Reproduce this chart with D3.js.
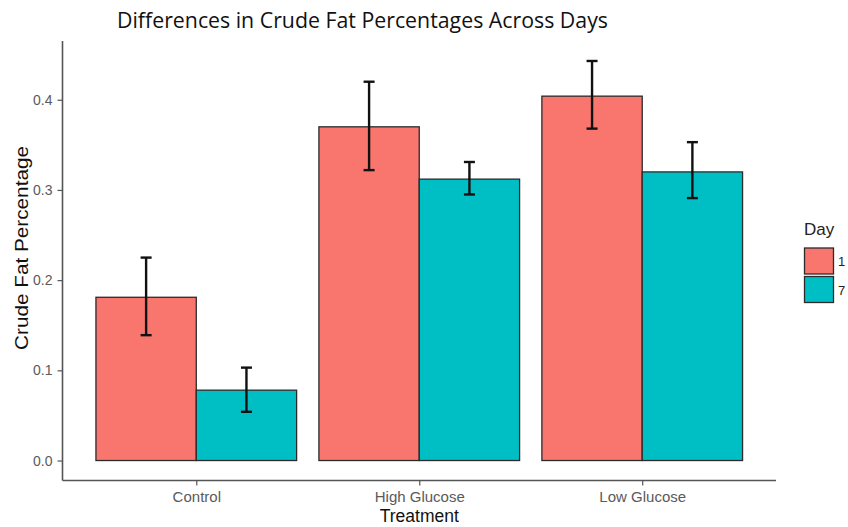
<!DOCTYPE html>
<html>
<head>
<meta charset="utf-8">
<script src="https://cdn.jsdelivr.net/npm/d3@7"></script>
<style>
  body { margin: 0; background: #fff; }
  svg { display: block; }
</style>
</head>
<body>
<svg id="chart" width="848" height="527"></svg>
<script>
// Treatments on the x axis and the two sampling days
const treatments = ["Control", "High Glucose", "Low Glucose"];
const days = ["1", "7"];

// Mean crude fat percentage per treatment, one array per day
const day1Means = [0.181, 0.370, 0.404];
const day7Means = [0.078, 0.312, 0.320];

// Error bar ends (lower / upper) per treatment, per day
const day1Lower = [0.139, 0.322, 0.368];
const day1Upper = [0.225, 0.420, 0.443];
const day7Lower = [0.054, 0.295, 0.291];
const day7Upper = [0.103, 0.331, 0.353];

const yTicks = [0.0, 0.1, 0.2, 0.3, 0.4];

const fills = { "1": "#F8766D", "7": "#00BFC4" };

const rows = [];
treatments.forEach((t, i) => {
  rows.push({ treatment: t, day: "1", mean: day1Means[i], lo: day1Lower[i], hi: day1Upper[i] });
  rows.push({ treatment: t, day: "7", mean: day7Means[i], lo: day7Lower[i], hi: day7Upper[i] });
});

const svg = d3.select("#chart");
const plot = { left: 62.5, right: 776, top: 41, bottom: 480.5 };

// Discrete x positions: categories at 1..3, expanded 0.6 on each side
const xPos = d3.scaleLinear().domain([0.4, 3.6]).range([plot.left, plot.right]);
const unit = xPos(2) - xPos(1);
const dodge = 0.9;

const allVals = rows.flatMap(r => [0, r.hi]);
const yMax = d3.max(allVals);
const pad = yMax * 0.05;
const y = d3.scaleLinear().domain([-pad, yMax + pad]).range([plot.bottom, plot.top]);

function barX(r) {
  const ci = treatments.indexOf(r.treatment) + 1;
  const di = days.indexOf(r.day);
  return xPos(ci) - (dodge / 2) * unit + di * (dodge / 2) * unit;
}
const barW = (dodge / 2) * unit;

// Bars
svg.append("g").selectAll("rect").data(rows).join("rect")
  .attr("x", barX)
  .attr("width", barW)
  .attr("y", d => y(d.mean))
  .attr("height", d => y(0) - y(d.mean))
  .attr("fill", d => fills[d.day])
  .attr("stroke", "#2b2b2b")
  .attr("stroke-width", 1.3);

// Error bars
const eb = svg.append("g").attr("stroke", "#111").attr("stroke-width", 2.4).attr("fill", "none");
const cap = 5.5;
rows.forEach(r => {
  const cx = barX(r) + barW / 2;
  eb.append("line").attr("x1", cx).attr("x2", cx).attr("y1", y(r.lo)).attr("y2", y(r.hi));
  eb.append("line").attr("x1", cx - cap).attr("x2", cx + cap).attr("y1", y(r.hi)).attr("y2", y(r.hi));
  eb.append("line").attr("x1", cx - cap).attr("x2", cx + cap).attr("y1", y(r.lo)).attr("y2", y(r.lo));
});

const tickFont = "'Liberation Sans', Arial, sans-serif";

// Y axis
const yAxis = d3.axisLeft(y).tickValues(yTicks).tickFormat(d3.format(".1f")).tickSize(5).tickPadding(5);
const gy = svg.append("g").attr("transform", `translate(${plot.left},0)`).call(yAxis);
gy.select(".domain").attr("d", `M0,${plot.top}V${plot.bottom}`).attr("stroke", "#555").attr("stroke-width", 1.6);
gy.selectAll(".tick line").attr("stroke", "#555").attr("stroke-width", 1.2);
gy.selectAll(".tick text").attr("fill", "#5a5a5a").style("font-family", tickFont).style("font-size", "14px");

// X axis
const xAxis = d3.axisBottom(xPos).tickValues([1, 2, 3]).tickFormat(d => treatments[d - 1]).tickSize(5).tickPadding(6);
const gx = svg.append("g").attr("transform", `translate(0,${plot.bottom})`).call(xAxis);
gx.select(".domain").attr("d", `M${plot.left},0H${plot.right}`).attr("stroke", "#555").attr("stroke-width", 1.6);
gx.selectAll(".tick line").attr("stroke", "#555").attr("stroke-width", 1.2);
gx.selectAll(".tick text").attr("fill", "#5a5a5a").style("font-family", tickFont).style("font-size", "15px");

// Axis titles
svg.append("text")
  .attr("x", xPos(2)).attr("y", 522)
  .attr("text-anchor", "middle")
  .style("font-family", tickFont).style("font-size", "17.5px").attr("fill", "#111")
  .text("Treatment");

svg.append("text")
  .attr("transform", `translate(28,248) rotate(-90)`)
  .attr("x", -102).attr("textLength", 204).attr("lengthAdjust", "spacingAndGlyphs")
  .style("font-family", tickFont).style("font-size", "18px").attr("fill", "#111")
  .style("text-anchor", "start")
  .text("Crude Fat Percentage");

// Title
svg.append("text")
  .attr("x", 117).attr("y", 28)
  .attr("textLength", 491).attr("lengthAdjust", "spacingAndGlyphs")
  .style("font-family", "'Open Sans', 'Noto Sans', sans-serif").style("font-size", "21px").attr("fill", "#111")
  .text("Differences in Crude Fat Percentages Across Days");

// Legend
const lg = svg.append("g").attr("transform", "translate(804,0)");
lg.append("text").attr("x", 0).attr("y", 235)
  .style("font-family", tickFont).style("font-size", "17px").attr("fill", "#222")
  .text("Day");
days.forEach((d, i) => {
  const ky = 248 + i * 28.5;
  lg.append("rect").attr("x", 0.5).attr("y", ky).attr("width", 29).attr("height", 26)
    .attr("fill", fills[d]).attr("stroke", "#2b2b2b").attr("stroke-width", 1.3);
  lg.append("text").attr("x", 34).attr("y", ky + 18)
    .style("font-family", tickFont).style("font-size", "13px").attr("fill", "#222")
    .text(d);
});
</script>
</body>
</html>
